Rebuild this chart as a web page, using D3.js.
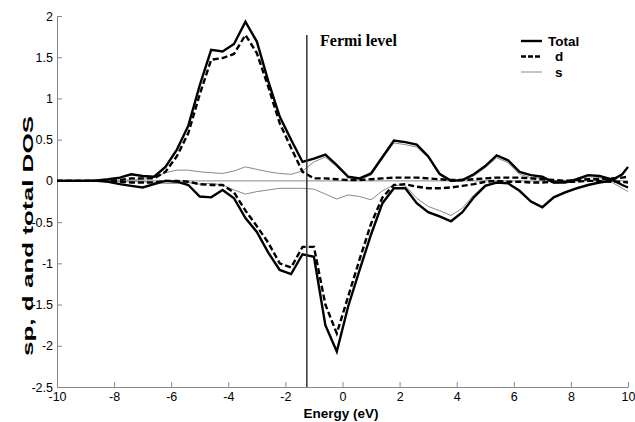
<!DOCTYPE html>
<html>
<head>
<meta charset="utf-8">
<script src="https://cdn.jsdelivr.net/npm/d3@7"></script>
<style>
  body { margin: 0; background: #fff; }
  text { font-family: "Liberation Sans", Arial, sans-serif; }
</style>
</head>
<body>
<svg id="my_svg"></svg>
<script>
const width = 635;
const height = 422;

// energy grid (eV)
const energy = [-10, -9.8, -9.4, -9.0, -8.6, -8.2, -7.8, -7.4, -7.0, -6.6,
    -6.2, -5.8, -5.4, -5.0, -4.6, -4.2, -3.8, -3.4, -3.0, -2.6,
    -2.2, -1.8, -1.4, -1.0, -0.6, -0.2, 0.2, 0.6, 1.0, 1.4,
    1.8, 2.2, 2.6, 3.0, 3.4, 3.8, 4.2, 4.6, 5.0, 5.4,
    5.8, 6.2, 6.6, 7.0, 7.4, 7.8, 8.2, 8.6, 9.0, 9.4, 9.8, 10];

const totalUp = [0, 0, 0, 0, 0.005, 0.02, 0.04, 0.08, 0.06, 0.05,
    0.17, 0.38, 0.67, 1.16, 1.59, 1.57, 1.66, 1.93, 1.69, 1.21,
    0.78, 0.5, 0.23, 0.27, 0.32, 0.19, 0.05, 0.03, 0.09, 0.29,
    0.49, 0.47, 0.44, 0.30, 0.085, 0.0, 0.01, 0.08, 0.18, 0.31,
    0.25, 0.11, 0.07, 0.05, -0.02, -0.02, 0.02, 0.07, 0.06, 0.02, -0.05, -0.08];
const dUp = [0, 0, 0, 0, 0, 0, 0.01, 0.03, 0.03, 0.03,
    0.11, 0.30, 0.58, 1.05, 1.47, 1.49, 1.54, 1.77, 1.55, 1.14,
    0.70, 0.40, 0.11, 0.03, 0.03, 0.02, 0.01, 0.01, 0.02, 0.03,
    0.04, 0.04, 0.04, 0.03, 0.02, 0.01, 0.01, 0.02, 0.03, 0.04,
    0.04, 0.04, 0.03, 0.02, 0.01, 0.0, 0.01, 0.02, 0.02, 0.03, 0.04, 0.05];
const sUp = [0, 0, 0, 0, 0, 0, 0.01, 0.01, 0.02, 0.04,
    0.10, 0.13, 0.13, 0.11, 0.10, 0.09, 0.12, 0.17, 0.14, 0.11,
    0.09, 0.08, 0.12, 0.23, 0.29, 0.17, 0.04, 0.02, 0.07, 0.27,
    0.46, 0.44, 0.41, 0.28, 0.07, -0.01, 0.0, 0.06, 0.16, 0.28,
    0.22, 0.08, 0.04, 0.03, -0.03, -0.02, 0.01, 0.05, 0.04, -0.01, -0.09, -0.13];

const totalDown = [0, 0, 0, 0, 0, -0.01, -0.04, -0.06, -0.08, -0.04,
    0.0, -0.01, -0.05, -0.19, -0.20, -0.11, -0.21, -0.45, -0.62, -0.87,
    -1.08, -1.13, -0.89, -0.92, -1.75, -2.07, -1.52, -1.08, -0.65, -0.27,
    -0.09, -0.09, -0.27, -0.38, -0.43, -0.49, -0.38, -0.20, -0.06, -0.02,
    -0.03, -0.12, -0.25, -0.32, -0.20, -0.14, -0.09, -0.05, -0.02, 0.0, 0.08, 0.17];
const dDown = [0, 0, 0, 0, 0, 0, -0.01, -0.02, -0.02, -0.02,
    0.0, 0.0, -0.01, -0.04, -0.05, -0.05, -0.14, -0.36, -0.55, -0.75,
    -1.0, -1.05, -0.80, -0.80, -1.50, -1.85, -1.40, -0.95, -0.52, -0.20,
    -0.05, -0.04, -0.07, -0.09, -0.09, -0.08, -0.06, -0.04, -0.01, 0.0,
    -0.01, -0.01, -0.02, -0.02, -0.01, -0.01, -0.01, 0.0, 0.0, -0.01, -0.01, -0.02];
const sDown = [0, 0, 0, 0, 0, 0, -0.01, -0.01, -0.01, -0.02,
    -0.03, -0.03, -0.02, -0.04, -0.03, -0.05, -0.11, -0.16, -0.13, -0.11,
    -0.09, -0.09, -0.09, -0.10, -0.16, -0.22, -0.17, -0.19, -0.23, -0.12,
    -0.05, -0.06, -0.21, -0.31, -0.36, -0.42, -0.33, -0.17, -0.05, -0.02,
    -0.03, -0.11, -0.24, -0.31, -0.19, -0.13, -0.08, -0.05, -0.02, 0.0, 0.08, 0.17];

const fermi = -1.25;
const xTicks = [-10, -8, -6, -4, -2, 0, 2, 4, 6, 8, 10];
const yTicks = [2, 1.5, 1, 0.5, 0, -0.5, -1, -1.5, -2, -2.5];
const legendNames = ['Total', 'd', 's'];

const svg = d3.select('#my_svg')
    .attr('width', width)
    .attr('height', height);

svg.append('rect')
    .attr('width', width)
    .attr('height', height)
    .attr('fill', '#fff');

const x = d3.scaleLinear().domain([-10, 10]).range([57, 628]);
const y = d3.scaleLinear().domain([-2.5, 2]).range([387, 16]);

// axes, ticks pointing inward
const xAxis = svg.append('g')
    .attr('transform', `translate(0, ${y(-2.5)})`)
    .call(d3.axisBottom(x).tickValues(xTicks).tickFormat(d => String(d))
        .tickSizeInner(-5).tickSizeOuter(0).tickPadding(5));
const yAxis = svg.append('g')
    .attr('transform', `translate(${x(-10)}, 0)`)
    .call(d3.axisLeft(y).tickValues(yTicks).tickFormat(d => String(d))
        .tickSizeInner(-5).tickSizeOuter(0).tickPadding(4));

for (const ax of [xAxis, yAxis]) {
    ax.select('.domain').attr('stroke', '#888');
    ax.selectAll('.tick line').attr('stroke', '#888');
    ax.selectAll('.tick text')
        .attr('font-size', 12.5)
        .attr('fill', '#000');
}

// zero line
svg.append('line')
    .attr('x1', x(-10)).attr('x2', x(10))
    .attr('y1', y(0)).attr('y2', y(0))
    .attr('stroke', '#888')
    .attr('stroke-width', 1);

const lineFor = vals => d3.line()
    .x((d, i) => x(energy[i]))
    .y(d => y(d))(vals);

const styles = {
    s: { stroke: '#8a8a8a', width: 1, dash: null },
    total: { stroke: '#000', width: 2.4, dash: null },
    d: { stroke: '#000', width: 2.4, dash: '6,3' }
};

const series = [
    ['s', sUp], ['s', sDown],
    ['total', totalUp], ['total', totalDown],
    ['d', dUp], ['d', dDown]
];

const lines_g = svg.append('g').attr('id', 'lines_g');
for (const [kind, vals] of series) {
    const st = styles[kind];
    lines_g.append('path')
        .attr('d', lineFor(vals))
        .attr('fill', 'none')
        .attr('stroke', st.stroke)
        .attr('stroke-width', st.width)
        .attr('stroke-dasharray', st.dash)
        .attr('stroke-linejoin', 'miter');
}

// Fermi level marker
svg.append('line')
    .attr('x1', x(fermi)).attr('x2', x(fermi))
    .attr('y1', 35).attr('y2', y(-2.5))
    .attr('stroke', '#333')
    .attr('stroke-width', 1.5);
svg.append('text')
    .attr('x', 320)
    .attr('y', 46)
    .style('font-family', '"Liberation Serif", "Times New Roman", serif')
    .attr('font-weight', 'bold')
    .attr('font-size', 16)
    .text('Fermi level');

// legend
const legendKinds = ['total', 'd', 's'];
const legend = svg.append('g').attr('id', 'legend_g');
legendNames.forEach((name, i) => {
    const st = styles[legendKinds[i]];
    const ly = 41 + i * 15.5;
    legend.append('line')
        .attr('x1', 521).attr('x2', 542)
        .attr('y1', ly).attr('y2', ly)
        .attr('stroke', st.stroke)
        .attr('stroke-width', st.width)
        .attr('stroke-dasharray', st.dash ? '5,2' : null);
    legend.append('text')
        .attr('x', i === 0 ? 548 : 555)
        .attr('y', ly + 4.5)
        .attr('font-weight', 'bold')
        .attr('font-size', 13.5)
        .text(name);
});

// axis titles
svg.append('text')
    .attr('x', 341)
    .attr('y', 418)
    .attr('text-anchor', 'middle')
    .attr('font-weight', 'bold')
    .attr('font-size', 13.5)
    .text('Energy (eV)');
svg.append('text')
    .attr('transform', 'translate(33, 236) rotate(-90)')
    .attr('text-anchor', 'middle')
    .attr('font-weight', 'bold')
    .attr('font-size', 14)
    .attr('textLength', 240)
    .attr('lengthAdjust', 'spacingAndGlyphs')
    .text('sp, d and total DOS');
</script>
</body>
</html>
